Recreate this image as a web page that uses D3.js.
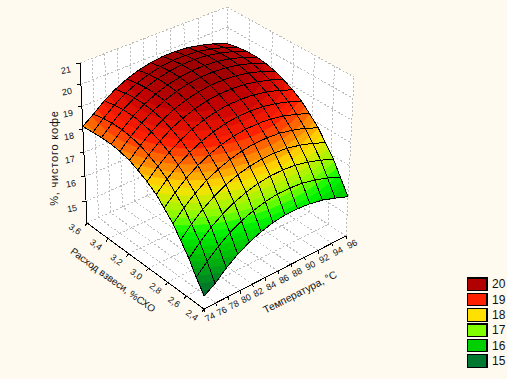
<!DOCTYPE html>
<html>
<head>
<meta charset="utf-8">
<script src="https://cdn.jsdelivr.net/npm/d3@7"></script>
<style>
  html, body { margin: 0; padding: 0; background: #fffaf0; }
  svg { display: block; shape-rendering: crispEdges; }
  text { font-family: "Liberation Sans", Arial, sans-serif; fill: #111; }
</style>
</head>
<body>
<div id="chart"></div>
<script>
// reaction axis (rows of the surface)
const dose = [2.4, 2.49, 2.57, 2.66, 2.74, 2.83, 2.91, 3.0, 3.09, 3.17, 3.26, 3.34, 3.43, 3.51, 3.6];
// temperature axis (columns of the surface)
const temp = [74, 75.83, 77.67, 79.5, 81.33, 83.17, 85, 86.83, 88.67, 90.5, 92.33, 94.17, 96];

const surface = [
  [14.65, 14.92, 15.31, 15.63, 15.88, 16.07, 16.20, 16.27, 16.27, 16.22, 16.11, 15.93, 15.72],
  [15.15, 15.56, 15.95, 16.27, 16.52, 16.71, 16.84, 16.91, 16.91, 16.86, 16.73, 16.55, 16.30],
  [15.68, 16.12, 16.51, 16.83, 17.08, 17.27, 17.40, 17.47, 17.47, 17.42, 17.29, 17.11, 16.86],
  [16.18, 16.62, 17.01, 17.33, 17.58, 17.77, 17.90, 17.97, 17.97, 17.92, 17.79, 17.61, 17.36],
  [16.63, 17.07, 17.46, 17.78, 18.03, 18.22, 18.35, 18.42, 18.42, 18.37, 18.24, 18.06, 17.81],
  [17.02, 17.46, 17.85, 18.17, 18.42, 18.61, 18.74, 18.81, 18.81, 18.76, 18.63, 18.45, 18.20],
  [17.36, 17.80, 18.19, 18.51, 18.76, 18.95, 19.08, 19.15, 19.15, 19.10, 18.97, 18.79, 18.54],
  [17.64, 18.08, 18.47, 18.79, 19.04, 19.23, 19.36, 19.43, 19.43, 19.38, 19.25, 19.07, 18.82],
  [17.86, 18.30, 18.69, 19.01, 19.26, 19.45, 19.58, 19.65, 19.65, 19.60, 19.47, 19.29, 19.04],
  [18.03, 18.47, 18.86, 19.18, 19.43, 19.62, 19.75, 19.82, 19.82, 19.77, 19.64, 19.46, 19.21],
  [18.14, 18.58, 18.97, 19.29, 19.54, 19.73, 19.86, 19.93, 19.93, 19.88, 19.75, 19.57, 19.32],
  [18.19, 18.63, 19.02, 19.34, 19.59, 19.78, 19.91, 19.98, 19.98, 19.93, 19.80, 19.62, 19.37],
  [18.19, 18.63, 19.02, 19.34, 19.59, 19.78, 19.91, 19.98, 19.98, 19.93, 19.80, 19.62, 19.37],
  [18.16, 18.57, 18.96, 19.28, 19.53, 19.72, 19.85, 19.92, 19.92, 19.87, 19.74, 19.56, 19.31],
  [18.12, 18.46, 18.85, 19.17, 19.42, 19.61, 19.74, 19.81, 19.81, 19.76, 19.63, 19.45, 19.20],
];

const doseTicks = [2.4, 2.6, 2.8, 3.0, 3.2, 3.4, 3.6];
const tempTicks = [74, 76, 78, 80, 82, 84, 86, 88, 90, 92, 94, 96];
const zTicks = [15, 16, 17, 18, 19, 20, 21];

const legendValues = [20, 19, 18, 17, 16, 15];
const legendColors = ['#b00000', '#ff2000', '#ffe000', '#80ff00', '#00d000', '#007830'];

const surfaceStops = [14.7, 15.9, 16.4, 16.8, 17.6, 18.7, 19.5, 20.2];
const surfaceColors = ['#006a30', '#00d000', '#00f800', '#80ff00', '#ffe000', '#ff2000', '#c00000', '#8a0000'];

const width = 507;
const height = 379;

const svg = d3.select('#chart').append('svg').attr('width', width).attr('height', height);

const uScale = d3.scaleLinear().domain([2.4, 3.6]).range([0, 1]);
const vScale = d3.scaleLinear().domain([74, 96]).range([0, 1]);
const tScale = d3.scaleLinear().domain([14.15, 21]).range([0, 1]);
const color = d3.scaleLinear().domain(surfaceStops).range(surfaceColors).clamp(true);

// box corners on screen, [u][v][t], with homogeneous weights for the perspective
const corners = [
  [[[204, 309, 1.05], [206, 145, 1.15]], [[346, 236, 0.95], [354, 77, 1.05]]],
  [[[87, 223, 0.95], [80, 63, 1.05]], [[228, 159, 0.85], [227, 7, 0.95]]],
];

const project = (u, v, t) => {
  let sx = 0;
  let sy = 0;
  let sw = 0;
  [0, 1].forEach((a) => [0, 1].forEach((b) => [0, 1].forEach((c) => {
    const k = (a ? u : 1 - u) * (b ? v : 1 - v) * (c ? t : 1 - t);
    const p = corners[a][b][c];
    sx += k * p[2] * p[0];
    sy += k * p[2] * p[1];
    sw += k * p[2];
  })));
  return [sx / sw, sy / sw];
};

const at = (c, T, z) => project(uScale(c), vScale(T), tScale(z));
const closed = d3.line().curve(d3.curveLinearClosed);
const open = d3.line();

const zLow = tScale.domain()[0];
const zHigh = tScale.domain()[1];

// walls and floor
svg.append('g')
  .selectAll('path')
  .data([
    [at(2.4, 74, zLow), at(3.6, 74, zLow), at(3.6, 96, zLow), at(2.4, 96, zLow)],
    [at(3.6, 74, zLow), at(3.6, 96, zLow), at(3.6, 96, zHigh), at(3.6, 74, zHigh)],
    [at(3.6, 96, zLow), at(2.4, 96, zLow), at(2.4, 96, zHigh), at(3.6, 96, zHigh)],
  ])
  .enter()
  .append('path')
  .attr('d', closed)
  .attr('fill', '#fff');

// dotted grid lines
const gridLines = [];
doseTicks.forEach((c) => {
  gridLines.push([at(c, 74, zLow), at(c, 96, zLow)]);
  gridLines.push([at(c, 96, zLow), at(c, 96, zHigh)]);
});
tempTicks.forEach((T) => {
  gridLines.push([at(2.4, T, zLow), at(3.6, T, zLow)]);
  gridLines.push([at(3.6, T, zLow), at(3.6, T, zHigh)]);
});
zTicks.forEach((z) => {
  gridLines.push([at(3.6, 74, z), at(3.6, 96, z)]);
  gridLines.push([at(3.6, 96, z), at(2.4, 96, z)]);
});
gridLines.push([at(3.6, 74, zHigh), at(3.6, 96, zHigh)]);
gridLines.push([at(3.6, 96, zHigh), at(2.4, 96, zHigh)]);

svg.append('g')
  .selectAll('path')
  .data(gridLines)
  .enter()
  .append('path')
  .attr('d', open)
  .attr('fill', 'none')
  .attr('stroke', '#bdbdbd')
  .attr('stroke-width', 1)
  .attr('stroke-dasharray', '2,2');

// axis lines
const axisLines = [
  [at(3.6, 74, zLow), at(3.6, 74, zHigh)],
  [at(2.4, 74, zLow), at(3.6, 74, zLow)],
  [at(2.4, 74, zLow), at(2.4, 96, zLow)],
];
zTicks.forEach((z) => {
  const p = at(3.6, 74, z);
  axisLines.push([p, [p[0] - 4, p[1]]]);
});
doseTicks.forEach((c) => {
  const p = at(c, 74, zLow);
  axisLines.push([p, [p[0] - 2, p[1] + 3]]);
});
tempTicks.forEach((T) => {
  const p = at(2.4, T, zLow);
  axisLines.push([p, [p[0] + 1, p[1] + 3]]);
});

svg.append('g')
  .selectAll('path')
  .data(axisLines)
  .enter()
  .append('path')
  .attr('d', open)
  .attr('fill', 'none')
  .attr('stroke', '#000')
  .attr('stroke-width', 1);

// keep the part of a triangle between two z levels
const clipLevel = (poly, level, keepAbove) => {
  const out = [];
  poly.forEach((p, i) => {
    const q = poly[(i + 1) % poly.length];
    const pIn = keepAbove ? p[2] >= level : p[2] <= level;
    const qIn = keepAbove ? q[2] >= level : q[2] <= level;
    if (pIn) out.push(p);
    if (pIn !== qIn) {
      const k = (level - p[2]) / (q[2] - p[2]);
      out.push([p[0] + k * (q[0] - p[0]), p[1] + k * (q[1] - p[1]), level]);
    }
  });
  return out;
};

const bands = d3.range(14, 21, 0.2);
const toScreen = (p) => project(uScale(p[0]), vScale(p[1]), tScale(p[2]));

// painter's order: far cells first
const marks = [];
d3.range(dose.length - 2, -1, -1).forEach((i) => {
  d3.range(temp.length - 2, -1, -1).forEach((j) => {
    const a = [dose[i], temp[j], surface[i][j]];
    const b = [dose[i + 1], temp[j], surface[i + 1][j]];
    const c = [dose[i + 1], temp[j + 1], surface[i + 1][j + 1]];
    const d = [dose[i], temp[j + 1], surface[i][j + 1]];
    [[a, b, c], [a, c, d]].forEach((tri) => {
      bands.forEach((lo) => {
        const hi = lo + 0.2;
        const part = clipLevel(clipLevel(tri, lo, true), hi, false);
        if (part.length > 2) {
          marks.push({ d: closed(part.map(toScreen)), fill: color(lo + 0.1), line: false });
        }
      });
    });
    marks.push({ d: closed([a, b, c, d].map(toScreen)), fill: 'none', line: true });
  });
});

svg.append('g')
  .selectAll('path')
  .data(marks)
  .enter()
  .append('path')
  .attr('d', (m) => m.d)
  .attr('fill', (m) => m.fill)
  .attr('stroke', (m) => (m.line ? '#000' : m.fill))
  .attr('stroke-width', (m) => (m.line ? 1 : 0.5))
  .attr('stroke-linejoin', 'round');

// tick labels
const comma = (n) => n.toFixed(1).replace('.', ',');

svg.append('g')
  .selectAll('text')
  .data(zTicks)
  .enter()
  .append('text')
  .attr('transform', (z) => {
    const p = at(3.6, 74, z);
    return `translate(${p[0] - 14},${p[1] + 7}) rotate(-10)`;
  })
  .attr('text-anchor', 'middle')
  .attr('dy', '0.35em')
  .attr('font-size', 9)
  .text((z) => z);

svg.append('g')
  .selectAll('text')
  .data(doseTicks)
  .enter()
  .append('text')
  .attr('transform', (c) => {
    const p = at(c, 74, zLow);
    return `translate(${p[0] - 12},${p[1] + 6}) rotate(36)`;
  })
  .attr('text-anchor', 'middle')
  .attr('dy', '0.35em')
  .attr('font-size', 9)
  .text(comma);

svg.append('g')
  .selectAll('text')
  .data(tempTicks)
  .enter()
  .append('text')
  .attr('transform', (T) => {
    const p = at(2.4, T, zLow);
    return `translate(${p[0] + 6},${p[1] + 8}) rotate(-27)`;
  })
  .attr('text-anchor', 'middle')
  .attr('dy', '0.35em')
  .attr('font-size', 9)
  .text((T) => T);

// axis titles
svg.append('text')
  .attr('transform', 'translate(300,292) rotate(-27)')
  .attr('text-anchor', 'middle')
  .attr('font-size', 10.5)
  .attr('dy', '0.35em')
  .text('Температура, °C');

svg.append('text')
  .attr('transform', 'translate(113,280) rotate(36)')
  .attr('text-anchor', 'middle')
  .attr('font-size', 10)
  .attr('dy', '0.35em')
  .text('Расход взвеси, %СХО');

svg.append('text')
  .attr('transform', 'translate(54,158) rotate(-90)')
  .attr('text-anchor', 'middle')
  .attr('font-size', 11)
  .attr('letter-spacing', 0.8)
  .attr('dy', '0.35em')
  .text('%, чистого кофе');

// legend
const legendY = d3.scaleBand().domain(legendValues).range([277, 369]);

const legend = svg.append('g')
  .selectAll('g')
  .data(legendValues)
  .enter()
  .append('g')
  .attr('transform', (d) => `translate(467,${legendY(d)})`);

legend.append('rect')
  .attr('x', 0.5)
  .attr('y', 1)
  .attr('width', 19.5)
  .attr('height', 12.5)
  .attr('fill', (d, i) => legendColors[i])
  .attr('stroke', '#000')
  .attr('stroke-width', 1.2);

legend.append('text')
  .attr('x', 25)
  .attr('y', 7)
  .attr('dy', '0.35em')
  .attr('font-size', 12)
  .text((d) => d);
</script>
</body>
</html>
